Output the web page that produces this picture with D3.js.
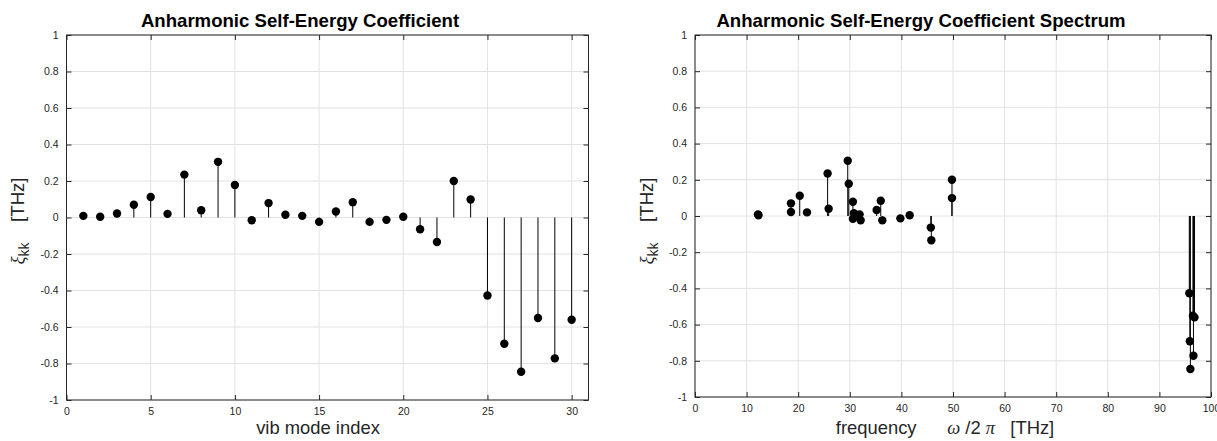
<!DOCTYPE html>
<html>
<head>
<meta charset="utf-8">
<script src="https://cdn.jsdelivr.net/npm/d3@7"></script>
<style>
  html, body { margin: 0; padding: 0; background: #fff; }
  svg { display: block; font-family: "Liberation Sans", Arial, Helvetica, sans-serif; }
  .tick text { fill: #262626; font-size: 10.5px; }
</style>
</head>
<body>
<svg id="fig" width="1217" height="441"></svg>
<script>
// Vibrational mode index and anharmonic self-energy coefficient xi_kk [THz]
const modeIndex = [1, 2, 3, 4, 5, 6, 7, 8, 9, 10, 11, 12, 13, 14, 15,
                   16, 17, 18, 19, 20, 21, 22, 23, 24, 25, 26, 27, 28, 29, 30];
const xiKK = [0.009, 0.004, 0.022, 0.070, 0.112, 0.020, 0.235, 0.040, 0.305, 0.178,
              -0.015, 0.079, 0.015, 0.009, -0.024, 0.033, 0.084, -0.024, -0.013, 0.004,
              -0.064, -0.134, 0.200, 0.099, -0.427, -0.692, -0.845, -0.551, -0.772, -0.560];
// Mode frequency omega/2pi [THz]
const modeFreq = [12.2, 12.3, 18.6, 18.6, 20.3, 21.7, 25.7, 25.9, 29.6, 29.8,
                  30.6, 30.6, 30.8, 31.9, 32.1, 35.2, 36.0, 36.3, 39.8, 41.6,
                  45.7, 45.8, 49.8, 49.8, 95.8, 95.9, 96.0, 96.5, 96.6, 96.8];

// Tick values and labels
const yTicks = [-1, -0.8, -0.6, -0.4, -0.2, 0, 0.2, 0.4, 0.6, 0.8, 1];
const yTickLabels = ["-1", "-0.8", "-0.6", "-0.4", "-0.2", "0", "0.2", "0.4", "0.6", "0.8", "1"];
const modeTicks = [0, 5, 10, 15, 20, 25, 30];
const freqTicks = [0, 10, 20, 30, 40, 50, 60, 70, 80, 90, 100];

const titles = ["Anharmonic Self-Energy Coefficient", "Anharmonic Self-Energy Coefficient Spectrum"];

const svg = d3.select("#fig");
const AXIS = "#262626", GRID = "#e2e2e2";

function panel(opts) {
  const { x0, x1, y0, y1, xDomain, xTicks, xs, ys } = opts;
  const x = d3.scaleLinear().domain(xDomain).range([x0, x1]);
  const y = d3.scaleLinear().domain([-1, 1]).range([y1, y0]);
  const g = svg.append("g");

  // grid
  g.append("g").selectAll("line").data(xTicks).join("line")
    .attr("x1", d => x(d)).attr("x2", d => x(d)).attr("y1", y0).attr("y2", y1)
    .attr("stroke", GRID).attr("stroke-width", 1);
  g.append("g").selectAll("line").data(yTicks).join("line")
    .attr("y1", d => y(d)).attr("y2", d => y(d)).attr("x1", x0).attr("x2", x1)
    .attr("stroke", GRID).attr("stroke-width", 1);

  // stems and markers
  const pts = xs.map((v, i) => ({ x: v, y: ys[i] }));
  g.append("g").selectAll("line").data(pts).join("line")
    .attr("x1", d => x(d.x)).attr("x2", d => x(d.x))
    .attr("y1", y(0)).attr("y2", d => y(d.y))
    .attr("stroke", "#000").attr("stroke-width", 1);
  g.append("g").selectAll("circle").data(pts).join("circle")
    .attr("cx", d => x(d.x)).attr("cy", d => y(d.y)).attr("r", 4.2)
    .attr("fill", "#000");

  // axes with inward ticks on all four sides
  const tl = 5;
  const bottom = g.append("g").attr("transform", `translate(0,${y1})`)
    .call(d3.axisBottom(x).tickValues(xTicks).tickFormat(d3.format("d"))
      .tickSizeInner(-tl).tickSizeOuter(0).tickPadding(8));
  const left = g.append("g").attr("transform", `translate(${x0},0)`)
    .call(d3.axisLeft(y).tickValues(yTicks).tickFormat((d, i) => yTickLabels[i])
      .tickSizeInner(-tl).tickSizeOuter(0).tickPadding(8));
  const top = g.append("g").attr("transform", `translate(0,${y0})`)
    .call(d3.axisTop(x).tickValues(xTicks).tickFormat("").tickSizeInner(-tl).tickSizeOuter(0));
  const right = g.append("g").attr("transform", `translate(${x1},0)`)
    .call(d3.axisRight(y).tickValues(yTicks).tickFormat("").tickSizeInner(-tl).tickSizeOuter(0));
  [bottom, left, top, right].forEach(a => {
    a.select(".domain").remove();
    a.selectAll(".tick line").attr("stroke", AXIS);
    a.attr("font-family", null).attr("font-size", null);
  });
  g.append("rect").attr("x", x0).attr("y", y0).attr("width", x1 - x0).attr("height", y1 - y0)
    .attr("fill", "none").attr("stroke", AXIS).attr("stroke-width", 1);
  return g;
}

// left panel: coefficient vs. mode index
panel({ x0: 66.5, x1: 588.5, y0: 35, y1: 400, xDomain: [0, 31], xTicks: modeTicks,
        xs: modeIndex, ys: xiKK });
// right panel: coefficient vs. mode frequency
panel({ x0: 695, x1: 1211, y0: 35, y1: 397, xDomain: [0, 100], xTicks: freqTicks,
        xs: modeFreq, ys: xiKK });

// titles
svg.append("text").attr("x", 300).attr("y", 27).attr("text-anchor", "middle")
  .attr("font-weight", "bold").attr("font-size", 18.6).attr("fill", "#000").text(titles[0]);
svg.append("text").attr("x", 921).attr("y", 27).attr("text-anchor", "middle")
  .attr("font-weight", "bold").attr("font-size", 18.6).attr("fill", "#000").text(titles[1]);

// x labels
svg.append("text").attr("x", 318).attr("y", 434).attr("text-anchor", "middle")
  .attr("font-size", 18.4).attr("fill", "#262626").text("vib mode index");
const xl = svg.append("text").attr("x", 945).attr("y", 434).attr("text-anchor", "middle")
  .attr("font-size", 18.4).attr("fill", "#262626").attr("xml:space", "preserve");
xl.append("tspan").text("frequency      ");
xl.append("tspan").attr("font-family", "'Liberation Serif', 'DejaVu Serif', serif")
  .attr("font-style", "italic").text("ω");
xl.append("tspan").text(" /2 ");
xl.append("tspan").attr("font-family", "'Liberation Serif', 'DejaVu Serif', serif")
  .attr("font-style", "italic").text("π");
xl.append("tspan").text("   [THz]");

// y labels
function yLabel(cx) {
  const t = svg.append("text").attr("transform", `translate(${cx},221) rotate(-90)`)
    .attr("text-anchor", "middle").attr("font-size", 18.6).attr("fill", "#262626")
    .attr("xml:space", "preserve");
  t.append("tspan").attr("font-family", "'Liberation Serif', 'DejaVu Serif', serif")
    .attr("font-style", "italic").text("ξ");
  t.append("tspan").attr("font-size", 14).attr("dy", 5).text("kk");
  t.append("tspan").attr("dy", -5).text("    [THz]");
}
yLabel(24);
yLabel(653);
</script>
</body>
</html>
